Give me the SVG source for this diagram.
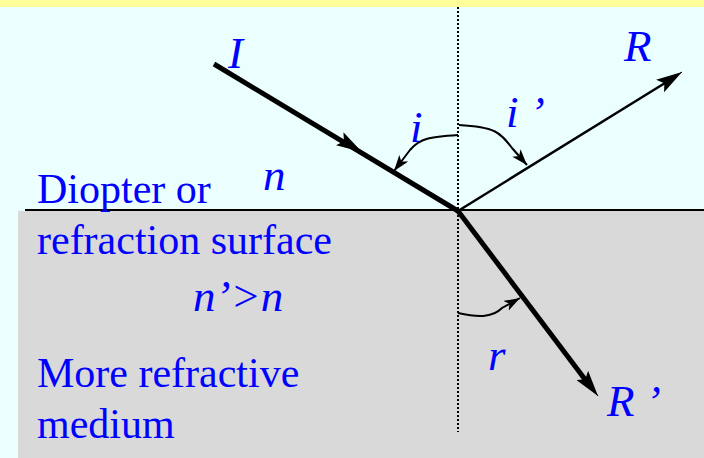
<svg xmlns="http://www.w3.org/2000/svg" width="704" height="458" viewBox="0 0 704 458">
<style>
.t{font-family:"Liberation Serif","Times New Roman",serif;fill:#0000ff;font-size:42px}
.l{font-family:"Liberation Serif","Times New Roman",serif;fill:#0000ff;font-size:45px;font-style:italic}
.ray{stroke:#000;fill:none;stroke-linecap:butt}
.arc{stroke:#000;fill:none;stroke-width:2}
</style>
<defs>
<marker id="ahb" viewBox="0 0 16 11" refX="16" refY="5.5" markerWidth="16" markerHeight="11" orient="auto" markerUnits="userSpaceOnUse"><path d="M0,0 L16,5.5 L0,11 L4,5.5 Z" fill="#000"/></marker>
<marker id="ahr" viewBox="0 0 26 15" refX="26" refY="7.5" markerWidth="26" markerHeight="15" orient="auto" markerUnits="userSpaceOnUse"><path d="M0,0 L26,7.5 L0,15 L5,7.5 Z" fill="#000"/></marker>
</defs>
<rect x="0" y="0" width="704" height="458" fill="#ecffff"/>
<rect x="0" y="0" width="704" height="7" fill="#ffff99"/>
<rect x="18" y="211" width="686" height="247" fill="#d9d9d9"/>
<line x1="25" y1="210" x2="704" y2="210" stroke="#000" stroke-width="2"/>
<line x1="458" y1="7" x2="458" y2="432" stroke="#000" stroke-width="2" stroke-dasharray="2,2"/>
<g id="connectors">
<line class="ray" x1="214" y1="64" x2="458" y2="211" stroke-width="5"/>
<path d="M340,139 L362,152" class="ray" stroke-width="1" marker-end="url(#ahr)"/>
<line class="ray" x1="458" y1="211" x2="590" y2="386" stroke-width="5"/>
<path d="M575,366 L598,396" class="ray" stroke-width="1" marker-end="url(#ahr)"/>
<line class="ray" x1="458" y1="211" x2="665" y2="83" stroke-width="2.5"/>
<path d="M660,86 L682,72" class="ray" stroke-width="1" marker-end="url(#ahr)"/>
<path class="arc" d="M458,135 C430,137 420,138 410,150 L394,171" marker-end="url(#ahb)"/>
<path class="arc" d="M459,125 C495,127 500,132 512,148 L527,165" marker-end="url(#ahb)"/>
<path class="arc" d="M458,313 C480,318 493,317 502,308 L520,298" marker-end="url(#ahb)"/>
</g>
<g id="label-I"><text class="l" x="228" y="68">I</text></g>
<g id="label-R"><text class="l" x="624" y="61">R</text></g>
<g id="label-i"><text class="l" x="410" y="142">i</text></g>
<g id="label-i2"><text class="l" x="506" y="127">i ’</text></g>
<g id="label-n"><text class="l" x="263" y="190">n</text></g>
<g id="label-diopter"><text class="t" x="37" y="203">Diopter or</text><text class="t" x="37" y="254">refraction surface</text></g>
<g id="label-nn"><text class="l" x="193" y="311">n’&gt;n</text></g>
<g id="label-r"><text class="l" x="488" y="370">r</text></g>
<g id="label-R2"><text class="l" x="607" y="416">R ’</text></g>
<g id="label-medium"><text class="t" x="37" y="387">More refractive</text><text class="t" x="37" y="438">medium</text></g>
</svg>
